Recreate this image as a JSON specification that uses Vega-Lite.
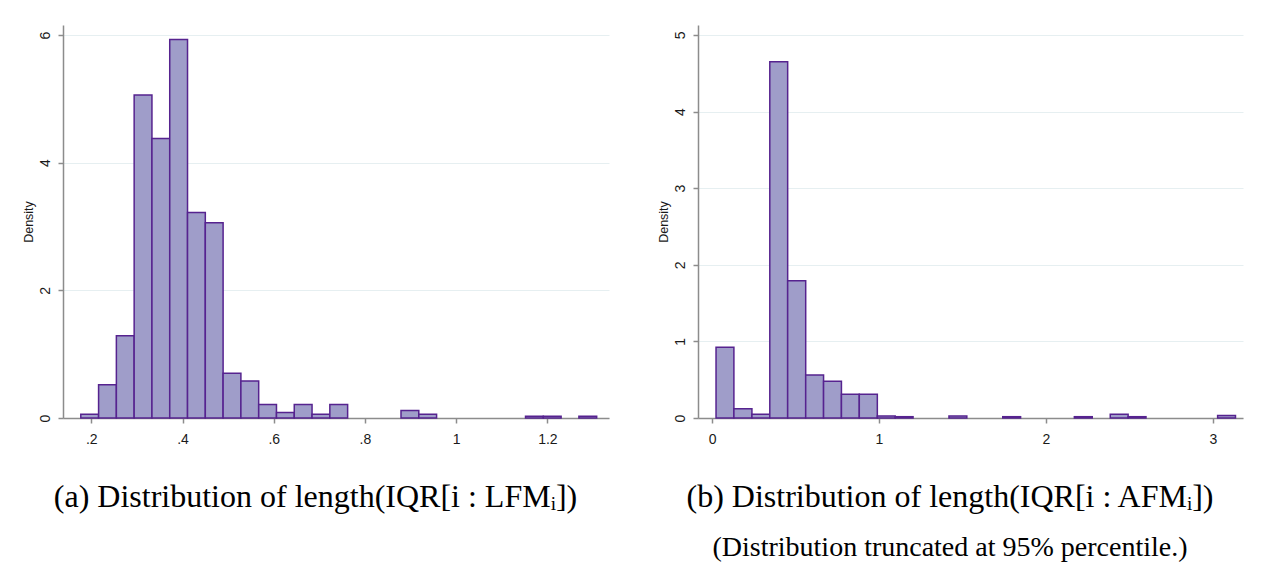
{
  "$schema": "https://vega.github.io/schema/vega-lite/v6.json",
  "background": "white",
  "padding": {"left": 22, "top": 25, "right": 10, "bottom": 0},
  "autosize": {"type": "pad"},
  "spacing": 48,
  "config": {
    "view": {"stroke": null},
    "axis": {
      "domainColor": "#8c8c8c",
      "domainWidth": 1.5,
      "tickColor": "#8c8c8c",
      "tickWidth": 1.5,
      "tickSize": 5,
      "labelFont": "Liberation Sans",
      "labelFontSize": 14,
      "labelColor": "#1a1a1a",
      "titleFont": "Liberation Sans",
      "titleFontSize": 12.5,
      "titleFontWeight": "normal",
      "titleColor": "#1a1a1a",
      "gridColor": "#e6eff1",
      "gridWidth": 1
    },
    "title": {
      "font": "Liberation Serif",
      "fontWeight": "normal",
      "color": "#000000",
      "subtitleFont": "Liberation Serif",
      "subtitleColor": "#000000"
    }
  },
  "hconcat": [
    {
      "width": 546,
      "height": 393,
      "title": {
        "text": "(a) Distribution of length(IQR[i : LFMᵢ])",
        "orient": "bottom",
        "anchor": "middle",
        "frame": "bounds",
        "offset": 36,
        "fontSize": 32
      },
      "data": {
        "values": [
          {"x0": 0.177, "x1": 0.216, "density": 0.058},
          {"x0": 0.216, "x1": 0.255, "density": 0.52},
          {"x0": 0.255, "x1": 0.294, "density": 1.29},
          {"x0": 0.294, "x1": 0.333, "density": 5.06},
          {"x0": 0.333, "x1": 0.372, "density": 4.38},
          {"x0": 0.372, "x1": 0.411, "density": 5.93},
          {"x0": 0.411, "x1": 0.450, "density": 3.22},
          {"x0": 0.450, "x1": 0.489, "density": 3.06},
          {"x0": 0.489, "x1": 0.528, "density": 0.70},
          {"x0": 0.528, "x1": 0.567, "density": 0.58},
          {"x0": 0.567, "x1": 0.606, "density": 0.21},
          {"x0": 0.606, "x1": 0.645, "density": 0.087},
          {"x0": 0.645, "x1": 0.684, "density": 0.21},
          {"x0": 0.684, "x1": 0.723, "density": 0.058},
          {"x0": 0.723, "x1": 0.762, "density": 0.21},
          {"x0": 0.879, "x1": 0.918, "density": 0.116},
          {"x0": 0.918, "x1": 0.957, "density": 0.058},
          {"x0": 1.152, "x1": 1.191, "density": 0.029},
          {"x0": 1.191, "x1": 1.230, "density": 0.029},
          {"x0": 1.269, "x1": 1.308, "density": 0.029}
        ]
      },
      "mark": {"type": "rect", "fill": "#9f9dc9", "stroke": "#56238f", "strokeWidth": 1.5},
      "encoding": {
        "x": {
          "field": "x0",
          "type": "quantitative",
          "scale": {"domain": [0.138, 1.335], "nice": false, "zero": false},
          "axis": {
            "values": [0.2, 0.4, 0.6, 0.8, 1, 1.2],
            "format": "~g",
            "labelExpr": "datum.value > 0 && datum.value < 1 ? replace(datum.label, '0.', '.') : datum.label",
            "title": null,
            "grid": false,
            "labelPadding": 9
          }
        },
        "x2": {"field": "x1"},
        "y": {
          "field": "density",
          "type": "quantitative",
          "scale": {"domain": [0, 6.157], "nice": false},
          "axis": {
            "values": [0, 2, 4, 6],
            "title": "Density",
            "labelAngle": -90,
            "labelPadding": 6,
            "titlePadding": 3,
            "grid": true
          }
        },
        "y2": {"datum": 0}
      }
    },
    {
      "width": 545,
      "height": 393,
      "title": {
        "text": "(b) Distribution of length(IQR[i : AFMᵢ])",
        "subtitle": "(Distribution truncated at 95% percentile.)",
        "orient": "bottom",
        "anchor": "middle",
        "frame": "bounds",
        "offset": 36,
        "fontSize": 32,
        "subtitleFontSize": 28,
        "subtitlePadding": 20
      },
      "data": {
        "values": [
          {"x0": 0.024, "x1": 0.131, "density": 0.924},
          {"x0": 0.131, "x1": 0.239, "density": 0.12},
          {"x0": 0.239, "x1": 0.346, "density": 0.05},
          {"x0": 0.346, "x1": 0.453, "density": 4.65},
          {"x0": 0.453, "x1": 0.561, "density": 1.79},
          {"x0": 0.561, "x1": 0.668, "density": 0.56},
          {"x0": 0.668, "x1": 0.775, "density": 0.48},
          {"x0": 0.775, "x1": 0.882, "density": 0.31},
          {"x0": 0.882, "x1": 0.990, "density": 0.31},
          {"x0": 0.990, "x1": 1.097, "density": 0.026},
          {"x0": 1.097, "x1": 1.204, "density": 0.017},
          {"x0": 1.419, "x1": 1.526, "density": 0.026},
          {"x0": 1.741, "x1": 1.848, "density": 0.017},
          {"x0": 2.170, "x1": 2.277, "density": 0.017},
          {"x0": 2.385, "x1": 2.492, "density": 0.05},
          {"x0": 2.492, "x1": 2.599, "density": 0.017},
          {"x0": 3.028, "x1": 3.135, "density": 0.034}
        ]
      },
      "mark": {"type": "rect", "fill": "#9f9dc9", "stroke": "#56238f", "strokeWidth": 1.5},
      "encoding": {
        "x": {
          "field": "x0",
          "type": "quantitative",
          "scale": {"domain": [-0.084, 3.18], "nice": false, "zero": false},
          "axis": {
            "values": [0, 1, 2, 3],
            "format": "~g",
            "title": null,
            "grid": false,
            "labelPadding": 9
          }
        },
        "x2": {"field": "x1"},
        "y": {
          "field": "density",
          "type": "quantitative",
          "scale": {"domain": [0, 5.13], "nice": false},
          "axis": {
            "values": [0, 1, 2, 3, 4, 5],
            "title": "Density",
            "labelAngle": -90,
            "labelPadding": 6,
            "titlePadding": 3,
            "grid": true
          }
        },
        "y2": {"datum": 0}
      }
    }
  ]
}
